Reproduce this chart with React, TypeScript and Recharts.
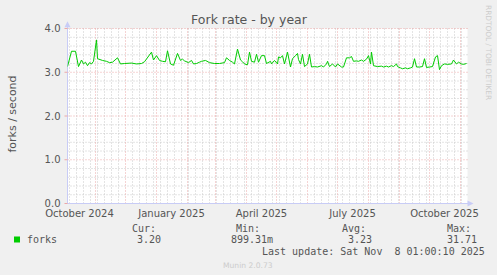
import React from 'react';
import { LineChart, Line, XAxis, YAxis, ReferenceLine, ReferenceDot, CartesianGrid } from 'recharts';

// day offsets from 4 Oct 2024 (start of the 400-day window)
const dayOffsets = [
  0, 4, 8, 11, 14, 16, 18, 20, 22, 24, 26, 29, 30, 35, 39, 42, 45, 50, 53, 57,
  64, 69, 74, 77, 84, 86, 89, 92, 95, 98, 100, 103, 106, 110, 113, 115, 117, 121, 124, 126,
  129, 132, 134, 138, 142, 147, 152, 157, 159, 162, 165, 167, 170, 173, 175, 177, 180, 182, 184, 187,
  189, 191, 194, 197, 199, 203, 204, 207, 210, 211, 213, 215, 217, 220, 223, 225, 228, 230, 231, 233,
  235, 237, 240, 242, 244, 247, 250, 254, 256, 259, 260, 262, 265, 268, 270, 274, 276, 279, 282, 284,
  286, 289, 291, 294, 296, 299, 301, 303, 304, 306, 310, 314, 316, 319, 321, 324, 326, 329, 330, 333,
  335, 338, 340, 343, 345, 347, 349, 352, 355, 357, 359, 362, 365, 368, 370, 372, 374, 377, 380, 384,
  386, 389, 391, 394, 396, 399,
];
const forkRates = [
  3.13, 3.48, 3.48, 3.13, 3.28, 3.19, 3.23, 3.15, 3.22, 3.19, 3.25, 3.74, 3.31, 3.27, 3.25, 3.22, 3.23, 3.33, 3.19, 3.2,
  3.21, 3.19, 3.2, 3.24, 3.46, 3.28, 3.38, 3.27, 3.25, 3.24, 3.49, 3.19, 3.16, 3.43, 3.27, 3.3, 3.26, 3.22, 3.27, 3.19,
  3.2, 3.23, 3.25, 3.27, 3.22, 3.2, 3.2, 3.22, 3.33, 3.27, 3.23, 3.19, 3.53, 3.28, 3.24, 3.19, 3.17, 3.46, 3.25, 3.23,
  3.41, 3.23, 3.38, 3.38, 3.2, 3.25, 3.19, 3.27, 3.19, 3.35, 3.33, 3.38, 3.19, 3.46, 3.12, 3.31, 3.38, 3.43, 3.29, 3.19,
  3.41, 3.13, 3.19, 3.41, 3.12, 3.13, 3.12, 3.15, 3.12, 3.19, 3.25, 3.13, 3.19, 3.12, 3.19, 3.12, 3.12, 3.33, 3.33, 3.36,
  3.25, 3.26, 3.25, 3.28, 3.25, 3.3, 3.38, 3.19, 3.46, 3.15, 3.13, 3.14, 3.12, 3.14, 3.12, 3.15, 3.13, 3.19, 3.13, 3.1,
  3.08, 3.1, 3.08, 3.1, 3.12, 3.31, 3.12, 3.12, 3.13, 3.31, 3.11, 3.12, 3.13, 3.35, 3.38, 3.06, 3.15, 3.19, 3.18, 3.19,
  3.28, 3.19, 3.23, 3.19, 3.18, 3.2,
];

const yMajorTicks = [0, 1, 2, 3, 4];
const yMinorTicks = [0.2, 0.4, 0.6, 0.8, 1.2, 1.4, 1.6, 1.8, 2.2, 2.4, 2.6, 2.8, 3.2, 3.4, 3.6, 3.8];
const monthStarts = [28, 58, 89, 120, 148, 179, 209, 240, 270, 301, 332, 362, 393];
const weekStarts = [
  2, 9, 16, 23, 30, 37, 44, 51, 65, 72, 79, 86, 93, 100, 107, 114, 121, 128, 135, 142, 149, 156, 163,
  170, 177, 184, 191, 198, 205, 212, 219, 226, 233, 247, 254, 261, 268, 275, 282, 289, 296, 303, 310,
  317, 324, 331, 338, 345, 352, 359, 366, 373, 380, 387, 394,
];
const monthLabelDays = [12, 104, 194, 285, 377];
const monthLabels = ['October 2024', 'January 2025', 'April 2025', 'July 2025', 'October 2025'];

const statLabels = ['Cur:', 'Min:', 'Avg:', 'Max:'];
const statValues = ['3.20', '899.31m', '3.23', '31.71'];
const seriesName = 'forks';
const lastUpdate = 'Last update: Sat Nov  8 01:00:10 2025';

const data = dayOffsets.map((d, i) => ({ day: d, forks: forkRates[i] }));

const MAJOR = '#EBA8A8';
const MINOR = '#C8C8C8';
const AXIS = '#C8CCF6';
const TEXT = '#555555';
const SANS = 'DejaVu Sans, sans-serif';
const MONO = 'DejaVu Sans Mono, monospace';

const upArrow = (p: any) => (
  <polygon points={`${p.cx - 3},${p.cy + 3} ${p.cx},${p.cy - 3} ${p.cx + 3},${p.cy + 3}`} fill={AXIS} />
);
const rightArrow = (p: any) => (
  <polygon points={`${p.cx - 3},${p.cy - 3} ${p.cx + 3},${p.cy} ${p.cx - 3},${p.cy + 3}`} fill={AXIS} />
);

const statX = [132, 236, 342, 447];
const valX = [137, 231, 348, 447];

export default function App() {
  return (
    <div style={{ position: 'absolute', left: 0, top: 0, width: 497, height: 275, background: '#F0F0F0' }}>
      <LineChart
        width={497}
        height={275}
        data={data}
        margin={{ top: 28.5, right: 29.5, bottom: 51.5, left: 0 }}
      >
        <CartesianGrid horizontal={false} vertical={false} fill="#ffffff" fillOpacity={1} />
        <XAxis
          type="number"
          dataKey="day"
          domain={[0, 400]}
          ticks={monthLabelDays}
          interval={0}
          height={20}
          axisLine={false}
          tickLine={false}
          tickSize={4}
          tickMargin={2}
          tickFormatter={(v: number) => monthLabels[monthLabelDays.indexOf(v)]}
          tick={{ fontFamily: SANS, fontSize: 10, fill: TEXT }}
          allowDataOverflow
        />
        <YAxis
          type="number"
          domain={[0, 4]}
          ticks={yMajorTicks}
          interval={0}
          width={67.5}
          axisLine={false}
          tickLine={{ stroke: MAJOR }}
          tickSize={3}
          tickMargin={4}
          tickFormatter={(v: number) => v.toFixed(1)}
          tick={{ fontFamily: SANS, fontSize: 10, fill: TEXT }}
          allowDataOverflow
        />
        {yMinorTicks.map((v) => (
          <ReferenceLine key={'ym' + v} y={v} stroke={MINOR} strokeDasharray="1 2" />
        ))}
        {weekStarts.map((d) => (
          <ReferenceLine key={'xw' + d} x={d} stroke={MINOR} strokeDasharray="1 2" />
        ))}
        {yMajorTicks.map((v) => (
          <ReferenceLine key={'yM' + v} y={v} stroke={MAJOR} strokeDasharray="1 2" />
        ))}
        {monthStarts.map((d) => (
          <ReferenceLine key={'xM' + d} x={d} stroke={MAJOR} strokeDasharray="1 2" />
        ))}
        <ReferenceLine segment={[{ x: 0, y: 0 }, { x: 402, y: 0 }]} ifOverflow="visible" stroke={AXIS} />
        <ReferenceLine segment={[{ x: 0, y: 0 }, { x: 0, y: 4.08 }]} ifOverflow="visible" stroke={AXIS} />
        <ReferenceDot x={0} y={4.1} ifOverflow="visible" shape={upArrow} />
        <ReferenceDot x={403} y={0} ifOverflow="visible" shape={rightArrow} />
        <Line
          type="linear"
          dataKey="forks"
          stroke="#00CC00"
          strokeWidth={1}
          dot={false}
          isAnimationActive={false}
        />
      </LineChart>
      <svg
        width={497}
        height={275}
        style={{ position: 'absolute', left: 0, top: 0, pointerEvents: 'none' }}
      >
        <text x={249} y={24} textAnchor="middle" fontFamily={SANS} fontSize={12.5} fill={TEXT}>
          Fork rate - by year
        </text>
        <text
          transform="translate(16,114) rotate(-90)"
          textAnchor="middle"
          fontFamily={SANS}
          fontSize={11}
          fill={TEXT}
        >
          forks / second
        </text>
        <text
          transform="translate(485.5,5) rotate(90)"
          fontFamily={SANS}
          fontSize={7.4}
          fill="#CCCCCC"
        >
          RRDTOOL / TOBI OETIKER
        </text>
        <rect x={14} y={236.5} width={6} height={6} fill="#00CC00" />
        <text x={27} y={243} fontFamily={MONO} fontSize={10} fill={TEXT}>
          {seriesName}
        </text>
        {statLabels.map((s, i) => (
          <text key={s} x={statX[i]} y={231.5} fontFamily={MONO} fontSize={10} fill={TEXT}>
            {s}
          </text>
        ))}
        {statValues.map((s, i) => (
          <text key={s} x={valX[i]} y={243} fontFamily={MONO} fontSize={10} fill={TEXT}>
            {s}
          </text>
        ))}
        <text x={262} y={255} fontFamily={MONO} fontSize={10} fill={TEXT} style={{ whiteSpace: 'pre' }}>
          {lastUpdate}
        </text>
        <text x={223} y={267.5} fontFamily={SANS} fontSize={7.6} fill="#CCCCCC">
          Munin 2.0.73
        </text>
      </svg>
    </div>
  );
}
